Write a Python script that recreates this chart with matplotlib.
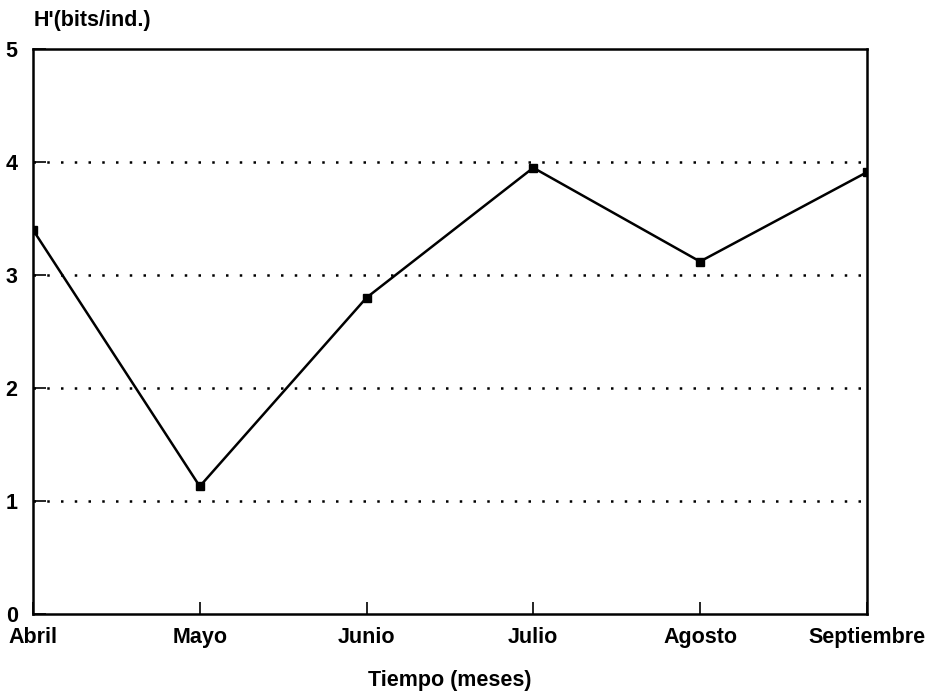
import matplotlib.pyplot as plt

meses = ['Abril', 'Mayo', 'Junio', 'Julio', 'Agosto', 'Septiembre']
diversidad = [3.40, 1.13, 2.80, 3.95, 3.12, 3.91]
y_ticks = [0, 1, 2, 3, 4, 5]

plt.rcParams['font.family'] = ['Liberation Sans', 'DejaVu Sans']
plt.rcParams['font.weight'] = 'bold'

fig = plt.figure(figsize=(9.3, 6.92), dpi=100)
ax = fig.add_axes([0.0355, 0.1127, 0.8965, 0.8163])

x = list(range(len(meses)))
ax.plot(x, diversidad, color='black', linewidth=1.8, marker='s', markersize=5.5)

for v in [1, 2, 3, 4]:
    ax.axhline(v, color='black', linestyle=(0, (1, 4.5)), linewidth=1.8)

ax.set_xlim(0, len(meses) - 1)
ax.set_ylim(0, 5)
ax.set_xticks(x)
ax.set_xticklabels(meses, fontsize=15.5, fontweight='bold')
ax.set_yticks(y_ticks)
ax.set_yticklabels([str(t) for t in y_ticks], fontsize=15.5, fontweight='bold')
ax.tick_params(axis='both', direction='in', length=9, width=1.2)
ax.tick_params(axis='x', pad=9)
ax.tick_params(axis='y', pad=11)

for s in ax.spines.values():
    s.set_linewidth(1.8)

ax.set_xlabel('Tiempo (meses)', fontsize=15.5, fontweight='bold', labelpad=16)
fig.text(0.036, 0.971, "H'(bits/ind.)", fontsize=15.5, fontweight='bold', ha='left', va='center')

plt.savefig('out.png', dpi=100)
